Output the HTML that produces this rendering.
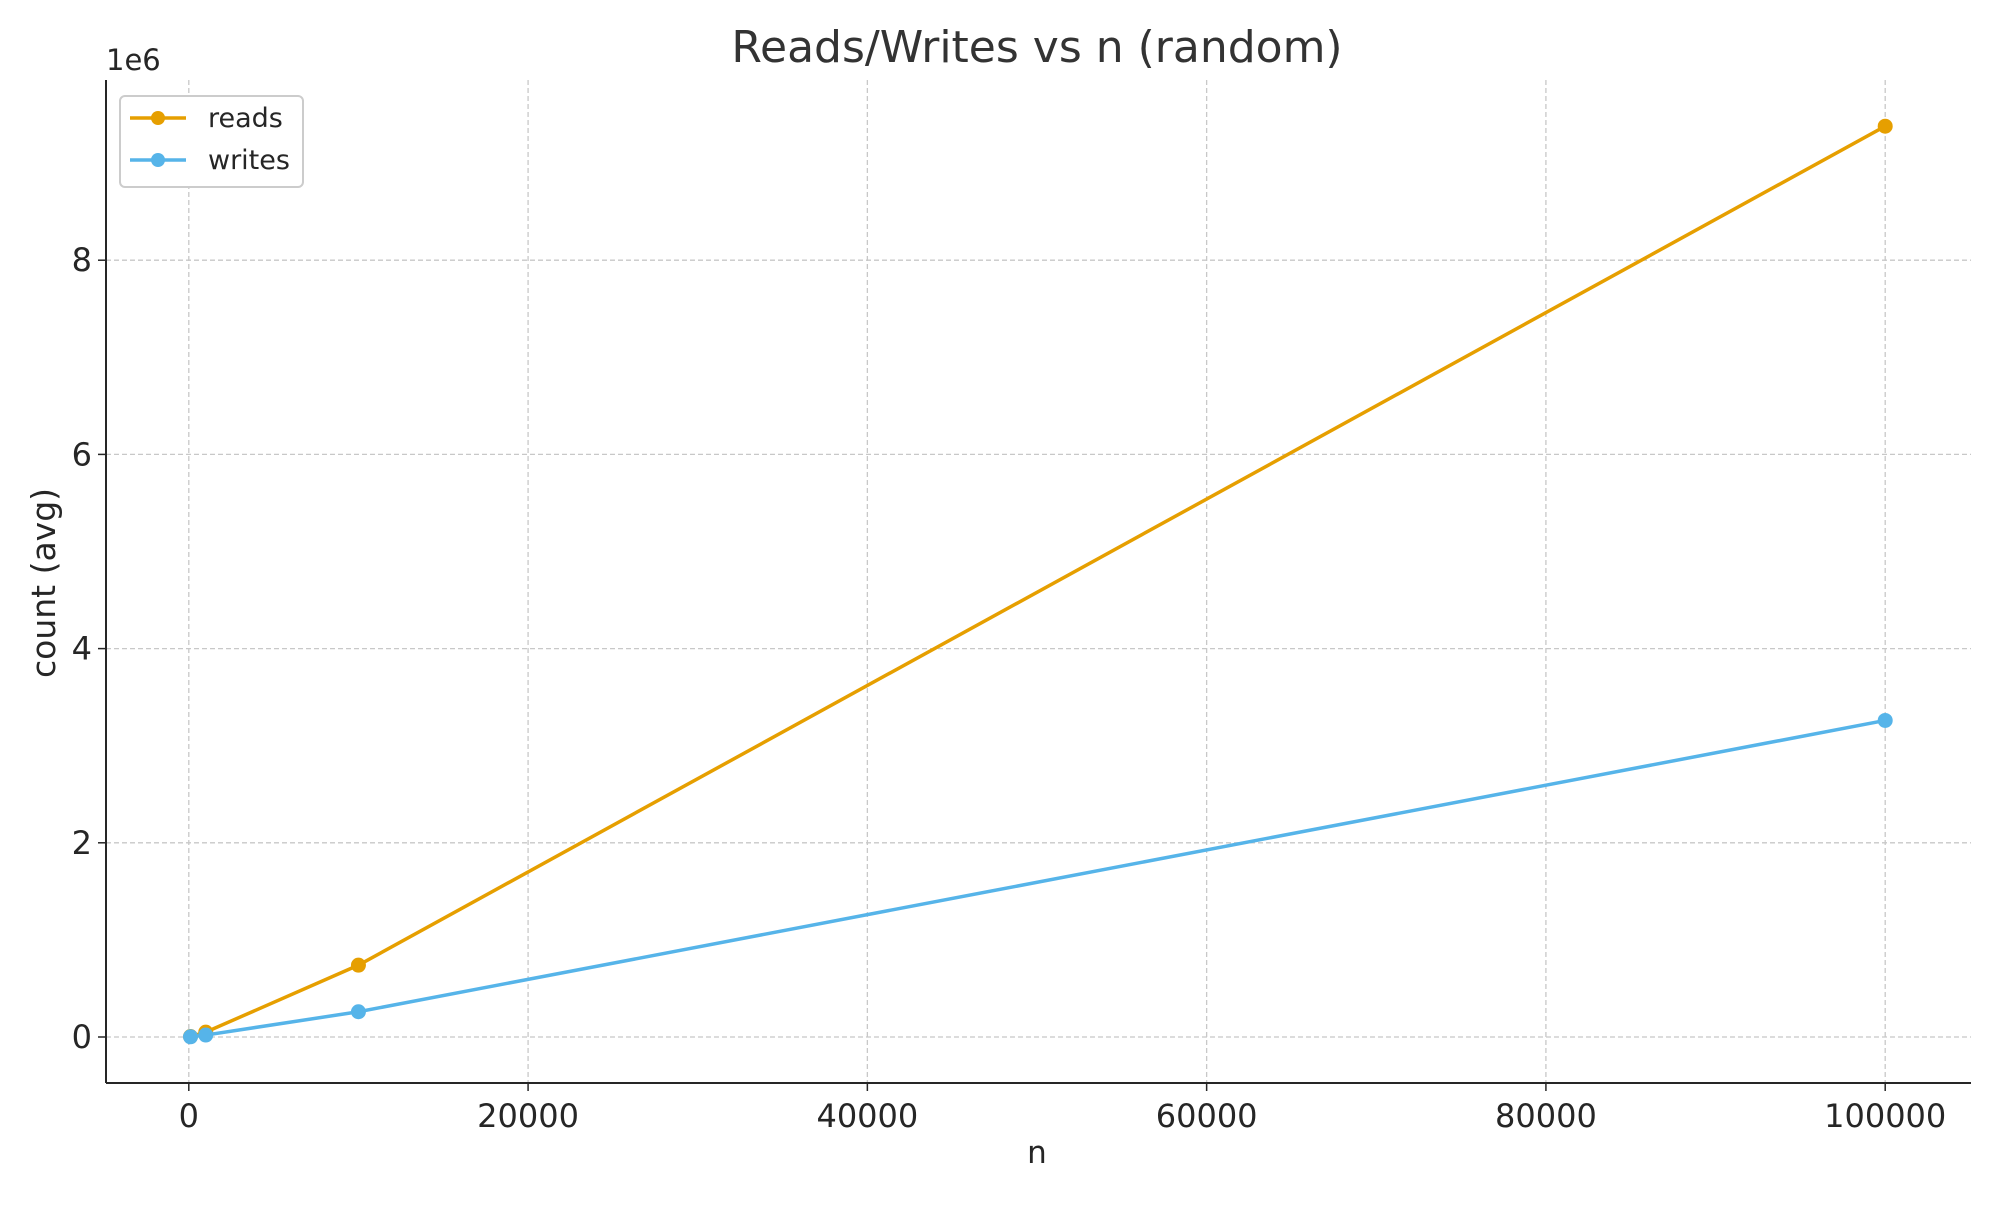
<!DOCTYPE html>
<html><head><meta charset="utf-8"><style>
body{margin:0;background:#fff}
svg text{font-family:"DejaVu Sans","Liberation Sans",sans-serif;fill:#262626}
</style></head><body>
<svg id="chart" width="2000" height="1200" xmlns="http://www.w3.org/2000/svg">
<g id="grid"></g>
<g id="axes"></g>
<g id="series"></g>
<text x="1037" y="62" font-size="44" text-anchor="middle" style="fill:#333">Reads/Writes vs n (random)</text>
<text x="1037" y="1163" font-size="31" text-anchor="middle">n</text>
<text transform="translate(55,583) rotate(-90)" font-size="33" text-anchor="middle">count (avg)</text>
<text x="106" y="70" font-size="29">1e6</text>
<g>
<rect x="120" y="96" width="183" height="91" rx="5" fill="#fff" stroke="#ccc" stroke-width="2"/>
<g>
<line x1="130" y1="118" x2="186" y2="118" stroke="#E69F00" stroke-width="3.5"/>
<circle cx="158" cy="118" r="7" fill="#E69F00"/>
<text x="208" y="127" font-size="27">reads</text></g>
<g>
<line x1="130" y1="160" x2="186" y2="160" stroke="#56B4E9" stroke-width="3.5"/>
<circle cx="158" cy="160" r="7" fill="#56B4E9"/>
<text x="208" y="169" font-size="27">writes</text></g>
</g>
</svg>
<script>
const nValues=[100,1000,10000,100000];
const reads=[5000,50000,740000,9380000];
const writes=[2000,20000,260000,3260000];
const xTicks=[0,20000,40000,60000,80000,100000];
const yTicks=[0,2e6,4e6,6e6,8e6];
const yTickLabels=["0","2","4","6","8"];
const NS="http://www.w3.org/2000/svg";
const L=106,R=1971,T=80,B=1083;
function xs(v){return 188.8+v*(1885.2-188.8)/100000;}
function ys(v){return 1037-v*97.1/1e6;}
function mk(tag,attrs,parent){const e=document.createElementNS(NS,tag);for(const k in attrs)e.setAttribute(k,attrs[k]);parent.appendChild(e);return e;}
const grid=document.getElementById('grid'),axes=document.getElementById('axes'),series=document.getElementById('series');
xTicks.forEach(t=>{const x=xs(t);
const g=mk('line',{x1:x,x2:x,y1:T,y2:B,stroke:'#c8c8c8','stroke-width':1.3,'stroke-dasharray':'5,3'},grid);


const tk=mk('line',{x1:x,x2:x,y1:B,y2:B+8,stroke:'#262626','stroke-width':1.5},axes);


const tx=mk('text',{x:x,y:B+44,'font-size':32,'text-anchor':'middle'},axes);tx.textContent=t;

});
yTicks.forEach((t,i)=>{const y=ys(t);
const g=mk('line',{x1:L,x2:R,y1:y,y2:y,stroke:'#c8c8c8','stroke-width':1.3,'stroke-dasharray':'5,3'},grid);


const tk=mk('line',{x1:L-8,x2:L,y1:y,y2:y,stroke:'#262626','stroke-width':1.5},axes);


const tx=mk('text',{x:L-14,y:y+11,'font-size':32,'text-anchor':'end'},axes);tx.textContent=yTickLabels[i];

});
const ls=mk('line',{x1:L,x2:L,y1:T,y2:B,stroke:'#262626','stroke-width':2},axes);


const bs=mk('line',{x1:L,x2:R,y1:B,y2:B,stroke:'#262626','stroke-width':2},axes);


function draw(vals,color,name){
const pts=nValues.map((n,i)=>xs(n)+','+ys(vals[i])).join(' ');
const pl=mk('polyline',{points:pts,fill:'none',stroke:color,'stroke-width':3.5},series);


nValues.forEach((n,i)=>{const c=mk('circle',{cx:xs(n),cy:ys(vals[i]),r:7.5,fill:color},series);

});}
draw(reads,'#E69F00','reads');
draw(writes,'#56B4E9','writes');
</script>
</body></html>
